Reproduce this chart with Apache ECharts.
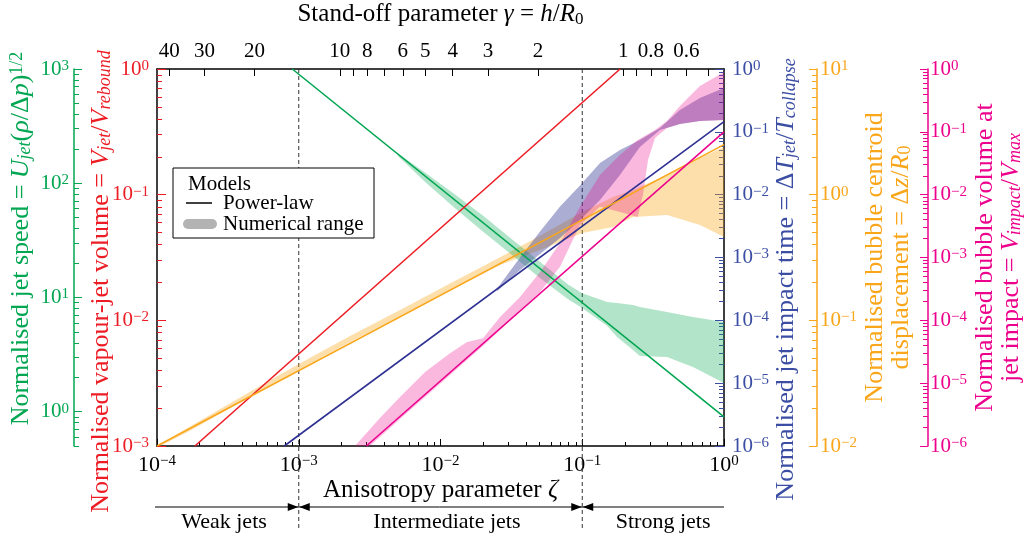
<!DOCTYPE html>
<html>
<head>
<meta charset="utf-8">
<script src="https://cdn.jsdelivr.net/npm/echarts@6/dist/echarts.min.js"></script>
<style>
  html, body { margin: 0; padding: 0; background: #fff; }
  #chart { width: 1030px; height: 539px; }
</style>
</head>
<body>
<div id="chart"></div>
<script>
// ---- data (zeta = anisotropy parameter) ----

// power-law models: two end points each
var speedLawZeta = [9.0e-4, 1];
var speedLaw = [1000, 0.9];
var volumeLawZeta = [1.85e-4, 0.185];
var volumeLaw = [1e-3, 1];
var timeLawZeta = [7.9e-4, 1];
var timeLaw = [1e-6, 0.145];
var shiftLawZeta = [1e-4, 1];
var shiftLaw = [0.01, 2.5];
var impactLawZeta = [3.0e-3, 1];
var impactLaw = [1e-6, 0.1];

// numerical ranges (lower / upper edge)
var speedBandZeta = [5.0e-3, 7.9e-3, 0.0126, 0.020, 0.0316, 0.050, 0.0794, 0.1, 0.150, 0.176, 0.228, 0.255, 0.396, 0.604, 1];
var speedBandLow  = [173, 101, 60.8, 37.5, 23.7, 14.9, 9.64, 8.07, 5.62, 4.50, 3.47, 3.07, 3.01, 2.46, 1.78];
var speedBandHigh = [183, 122, 80.2, 51.8, 32.7, 20.6, 13.0, 10.9, 9.12, 8.93, 8.57, 8.24, 7.45, 6.73, 6.10];

var timeBandZeta = [0.0251, 0.0364, 0.0504, 0.0697, 0.0964, 0.1334, 0.1845, 0.255, 0.353, 0.489, 0.676, 1];
var timeBandLow  = [2.9e-4, 6.3e-4, 1.14e-3, 2.04e-3, 3.95e-3, 8.2e-3, 0.0206, 0.0574, 0.107, 0.133, 0.149, 0.154];
var timeBandHigh = [3.2e-4, 1.0e-3, 2.6e-3, 6.5e-3, 0.0140, 0.0319, 0.0514, 0.0741, 0.115, 0.222, 0.345, 0.499];

var impactBandZeta = [2.49e-3, 3.74e-3, 5.18e-3, 7.78e-3, 0.01167, 0.01538, 0.01995, 0.0263, 0.0364, 0.0504, 0.0697, 0.0964,
                      0.1334, 0.1845, 0.246, 0.268, 0.291, 0.326, 0.396, 0.489, 0.676, 1];
var impactBandLow  = [6.2e-7, 1.39e-6, 2.7e-6, 6.0e-6, 1.35e-5, 2.34e-5, 3.9e-5, 7.0e-5, 1.46e-4, 2.82e-4, 7.1e-4, 3.3e-3,
                      6.4e-3, 5.3e-3, 4.4e-3, 9.9e-3, 0.0356, 0.0798, 0.115, 0.133, 0.149, 0.154];
var impactBandHigh = [1.0e-6, 2.8e-6, 6.0e-6, 1.5e-5, 3.0e-5, 4.5e-5, 5.2e-5, 1.13e-4, 2.35e-4, 5.9e-4, 1.7e-3, 6.4e-3,
                      0.0206, 0.0428, 0.0741, 0.0828, 0.0923, 0.107, 0.149, 0.258, 0.536, 0.896];

var shiftBandZeta = [1e-4, 1.71e-4, 4.53e-4, 1e-3, 2.30e-3, 5.18e-3, 0.01167, 0.0263, 0.0504, 0.1, 0.165, 0.228, 0.396, 0.678, 1];
var shiftBandLow  = [0.0097, 0.0132, 0.0245, 0.0403, 0.0673, 0.108, 0.174, 0.275, 0.363, 0.495, 0.553, 0.664, 0.689, 0.574, 0.460];
var shiftBandHigh = [0.0100, 0.0143, 0.0270, 0.0450, 0.0750, 0.121, 0.196, 0.318, 0.470, 0.728, 0.957, 1.09, 1.44, 1.96, 2.39];

// top axis: stand-off parameter
var gammaTicks = [40, 30, 20, 10, 9, 8, 7, 6, 5, 4, 3, 2, 1, 0.9, 0.8, 0.7, 0.6, 0.5];
var gammaLabels = [40, 30, 20, 10, 8, 6, 5, 4, 3, 2, 1, 0.8, 0.6];
// jet regimes: limits and label places (zeta)
var regimeEdges = [1e-4, 1e-3, 1e-1, 1];
var regimeNames = ['Weak jets', 'Intermediate jets', 'Strong jets'];
var regimeLabelZeta = [2.97e-4, 0.0111, 0.372];

// ---- chart ----
var FONT = 'Liberation Serif';
var lg = Math.log10;
var chart = echarts.init(document.getElementById('chart'));

// zeta = 0.195 gamma^-2 (graduation of the top axis)
function gammaToLog(g) { return lg(0.195) - 2 * lg(g); }
function logToGamma(v) { return Math.sqrt(0.195 / Math.pow(10, v)); }

function powLabel(v) {
  var e = Math.round(v);
  return '{b|10}{s|' + (e < 0 ? '\u2212' + (-e) : e) + '}';
}
function powRich(color, size) {
  return {
    b: { fontFamily: FONT, fontSize: size, color: color },
    s: { fontFamily: FONT, fontSize: Math.round(size * 0.7), color: color, verticalAlign: 'top' }
  };
}
function nameRich(color, size, lh) {
  var s = Math.round(size * 0.68);
  return {
    n: { fontFamily: FONT, fontSize: size, color: color, lineHeight: lh },
    i: { fontFamily: FONT, fontSize: size, color: color, fontStyle: 'italic', lineHeight: lh },
    sub: { fontFamily: FONT, fontSize: s, color: color, fontStyle: 'italic', verticalAlign: 'bottom', lineHeight: lh },
    sub0: { fontFamily: FONT, fontSize: s, color: color, verticalAlign: 'bottom', lineHeight: lh },
    sup: { fontFamily: FONT, fontSize: s, color: color, verticalAlign: 'top', lineHeight: lh }
  };
}
function minorLogs(a, b) {
  var out = [];
  for (var n = Math.floor(a) - 1; n < b; n++) {
    for (var k = 2; k <= 9; k++) {
      var v = n + lg(k);
      if (v >= a - 1e-9 && v <= b + 1e-9) out.push(v);
    }
  }
  return out;
}
function majorLogs(a, b) {
  var out = [];
  for (var n = Math.ceil(a - 1e-9); n <= b + 1e-9; n++) out.push(n);
  return out;
}

// one y axis = major ticks + labels, plus a twin for the minor ticks
function logAxis(o) {
  return [{
    type: 'value', position: o.pos, offset: o.offset, min: o.min, max: o.max,
    axisLine: { show: true, onZero: false, lineStyle: { color: o.line, width: 1.5 } },
    axisTick: { show: true, inside: true, length: o.major, customValues: majorLogs(o.min, o.max),
                lineStyle: { color: o.color, width: 1 } },
    axisLabel: { customValues: majorLogs(o.min, o.max), margin: o.margin, formatter: powLabel, rich: powRich(o.color, 21) },
    splitLine: { show: false },
    name: o.name, nameLocation: 'middle', nameRotate: 90, nameGap: o.gap, nameMoveOverlap: false,
    nameTextStyle: { padding: o.pad, rich: nameRich(o.color, 26, 26), lineHeight: 26 }
  }, {
    type: 'value', position: o.pos, offset: o.offset, min: o.min, max: o.max,
    axisLine: { show: false, onZero: false },
    axisTick: { show: true, inside: true, length: o.minor, customValues: minorLogs(o.min, o.max),
                lineStyle: { color: o.color, width: 1 } },
    axisLabel: { show: false },
    splitLine: { show: false }
  }];
}

var RED = '#ed1c24', GREEN = '#00a651', BLUE = '#2e3192', BLUE_T = '#3b4ea3',
    ORANGE = '#faa61a', PINK = '#ec008c';

var yAxes = [].concat(
  logAxis({ pos: 'left', offset: 0, min: -3, max: 0, line: '#000', color: RED, major: 9, minor: 5, margin: 8, gap: 43,
            pad: [0, 48, 0, 0],
            name: '{n|Normalised vapour-jet volume = }{i|V}{sub|jet}{n|/}{i|V}{sub|rebound}' }),
  logAxis({ pos: 'left', offset: 83, min: lg(5) - 1, max: 3, line: GREEN, color: GREEN, major: 8, minor: 5, margin: 5, gap: 40,
            pad: [0, 0, 0, 38],
            name: '{n|Normalised jet speed = }{i|U}{sub|jet}{n|(}{i|\u03c1}{n|/\u0394}{i|p}{n|)}{sup|1/2}' }),
  logAxis({ pos: 'right', offset: 0, min: -6, max: 0, line: '#000', color: BLUE_T, major: 9, minor: 5, margin: 8, gap: 49,
            pad: [0, 44, 0, 0],
            name: '{n|Normalised jet impact time = \u0394}{i|T}{sub|jet}{n|/}{i|T}{sub|collapse}' }),
  logAxis({ pos: 'right', offset: 93, min: -2, max: 1, line: ORANGE, color: ORANGE, major: 8, minor: 5, margin: 3, gap: 45,
            pad: 0,
            name: '{n|Normalised bubble centroid}\n{n|displacement = \u0394}{i|z}{n|/}{i|R}{sub0|0}' }),
  logAxis({ pos: 'right', offset: 204, min: -6, max: 0, line: PINK, color: PINK, major: 8, minor: 5, margin: 2, gap: 44,
            pad: 0,
            name: '{n|Normalised bubble volume at}\n{n|jet impact = }{i|V}{sub|impact}{n|/}{i|V}{sub|max}' })
);
// y axis indices
var Y_RED = 0, Y_GREEN = 2, Y_BLUE = 4, Y_ORANGE = 6, Y_PINK = 8;

function lawSeries(zeta, vals, color, yIdx) {
  return {
    type: 'line', xAxisIndex: 0, yAxisIndex: yIdx, symbol: 'none', silent: true, z: 5,
    data: zeta.map(function (z, i) { return [lg(z), lg(vals[i])]; }),
    lineStyle: { color: color, width: 1.6 }
  };
}
function bandSeries(zeta, lo, hi, color, yIdx) {
  return {
    type: 'custom', xAxisIndex: 0, yAxisIndex: yIdx, silent: true, z: 2,
    data: zeta.map(function (z, i) { return [lg(z), lg(lo[i]), lg(hi[i])]; }),
    renderItem: function (params, api) {
      if (params.dataIndex !== 0) return null;
      var pts = [], i;
      for (i = 0; i < zeta.length; i++) pts.push(api.coord([lg(zeta[i]), lg(hi[i])]));
      for (i = zeta.length - 1; i >= 0; i--) pts.push(api.coord([lg(zeta[i]), lg(lo[i])]));
      var cs = params.coordSys;
      return {
        type: 'polygon', shape: { points: pts }, style: { fill: color },
        clipPath: { type: 'rect', shape: { x: cs.x, y: cs.y, width: cs.width, height: cs.height } }
      };
    }
  };
}
function dividerSeries(zeta) {
  return {
    type: 'line', xAxisIndex: 0, yAxisIndex: Y_RED, symbol: 'none', silent: true, clip: false, z: 1,
    data: [[lg(zeta), 0], [lg(zeta), -3.67]],
    lineStyle: { color: '#333', width: 1, type: [4, 3] }
  };
}

var option = {
  animation: false,
  backgroundColor: '#fff',
  textStyle: { fontFamily: FONT },
  grid: { left: 157, top: 69, right: 306, bottom: 93, containLabel: false, outerBoundsMode: 'none' },
  xAxis: [{
    type: 'value', position: 'bottom', min: -4, max: 0, interval: 1,
    axisLine: { onZero: false, lineStyle: { color: '#000', width: 1.5 } },
    axisTick: { inside: true, length: 7, lineStyle: { color: '#000' } },
    axisLabel: { margin: 8, formatter: powLabel, rich: powRich('#000', 22) },
    splitLine: { show: false },
    name: '{n|Anisotropy parameter }{i|\u03b6}', nameLocation: 'middle', nameGap: 30, nameMoveOverlap: false,
    nameTextStyle: { rich: nameRich('#000', 25, 28) }
  }, {
    type: 'value', position: 'bottom', min: -4, max: 0,
    axisLine: { show: false, onZero: false },
    axisTick: { inside: true, length: 4, customValues: minorLogs(-4, 0), lineStyle: { color: '#000' } },
    axisLabel: { show: false },
    splitLine: { show: false }
  }, {
    type: 'value', position: 'top', min: -4, max: 0,
    axisLine: { onZero: false, lineStyle: { color: '#000', width: 1.5 } },
    axisTick: { inside: true, length: 7, customValues: gammaTicks.map(gammaToLog), lineStyle: { color: '#000' } },
    axisLabel: {
      customValues: gammaLabels.map(gammaToLog), margin: 7, color: '#000', fontFamily: FONT, fontSize: 21,
      formatter: function (v) {
        var g = logToGamma(v);
        return g >= 1 ? String(Math.round(g)) : String(Math.round(g * 10) / 10);
      }
    },
    splitLine: { show: false },
    name: '{n|Stand-off parameter }{i|\u03b3}{n| = }{i|h}{n|/}{i|R}{sub0|0}', nameLocation: 'middle', nameGap: 41,
    nameMoveOverlap: false,
    nameTextStyle: { rich: nameRich('#000', 25, 28) }
  }],
  yAxis: yAxes,
  series: [
    dividerSeries(regimeEdges[1]),
    dividerSeries(regimeEdges[2]),
    bandSeries(shiftBandZeta, shiftBandLow, shiftBandHigh, 'rgba(250,166,26,0.36)', Y_ORANGE),
    bandSeries(speedBandZeta, speedBandLow, speedBandHigh, 'rgba(0,166,81,0.3)', Y_GREEN),
    bandSeries(timeBandZeta, timeBandLow, timeBandHigh, 'rgba(46,49,146,0.4)', Y_BLUE),
    bandSeries(impactBandZeta, impactBandLow, impactBandHigh, 'rgba(236,0,140,0.28)', Y_PINK),
    lawSeries(speedLawZeta, speedLaw, GREEN, Y_GREEN),
    lawSeries(volumeLawZeta, volumeLaw, RED, Y_RED),
    lawSeries(timeLawZeta, timeLaw, BLUE, Y_BLUE),
    lawSeries(shiftLawZeta, shiftLaw, ORANGE, Y_ORANGE),
    lawSeries(impactLawZeta, impactLaw, PINK, Y_PINK)
  ]
};
chart.setOption(option);

// legend box and the jet-regime strip under the axis
function xPix(z) { return chart.convertToPixel({ xAxisIndex: 0 }, lg(z)); }
var px = regimeEdges.map(xPix);
var arrowY = 507, nameY = 522;
var txt = { fontFamily: FONT, fontSize: 21, fill: '#000', verticalAlign: 'middle' };
var graphics = [
  { type: 'rect', shape: { x: 173, y: 168, width: 201, height: 70 }, style: { fill: '#fff', stroke: '#000', lineWidth: 1 }, z: 100 },
  { type: 'text', x: 188, y: 184, style: Object.assign({ text: 'Models' }, txt), z: 101 },
  { type: 'line', shape: { x1: 186, y1: 203, x2: 212, y2: 203 }, style: { stroke: '#000', lineWidth: 1.5 }, z: 101 },
  { type: 'text', x: 223, y: 203, style: Object.assign({ text: 'Power-law' }, txt), z: 101 },
  { type: 'line', shape: { x1: 188, y1: 224, x2: 212, y2: 224 }, style: { stroke: '#b3b3b3', lineWidth: 10, lineCap: 'round' }, z: 101 },
  { type: 'text', x: 223, y: 224, style: Object.assign({ text: 'Numerical range' }, txt), z: 101 },
  { type: 'line', shape: { x1: px[0] - 2, y1: arrowY, x2: px[3], y2: arrowY }, style: { stroke: '#000', lineWidth: 1 } }
];
[px[1], px[2]].forEach(function (x) {
  graphics.push({ type: 'polygon', shape: { points: [[x - 0.5, arrowY], [x - 11, arrowY - 4], [x - 11, arrowY + 4]] }, style: { fill: '#000' } });
  graphics.push({ type: 'polygon', shape: { points: [[x + 0.5, arrowY], [x + 11, arrowY - 4], [x + 11, arrowY + 4]] }, style: { fill: '#000' } });
});
regimeNames.forEach(function (n, i) {
  graphics.push({ type: 'text', x: xPix(regimeLabelZeta[i]), y: nameY,
    style: { text: n, fontFamily: FONT, fontSize: 22, fill: '#000', align: 'center', verticalAlign: 'middle' } });
});
chart.setOption({ graphic: graphics });
</script>
</body>
</html>
